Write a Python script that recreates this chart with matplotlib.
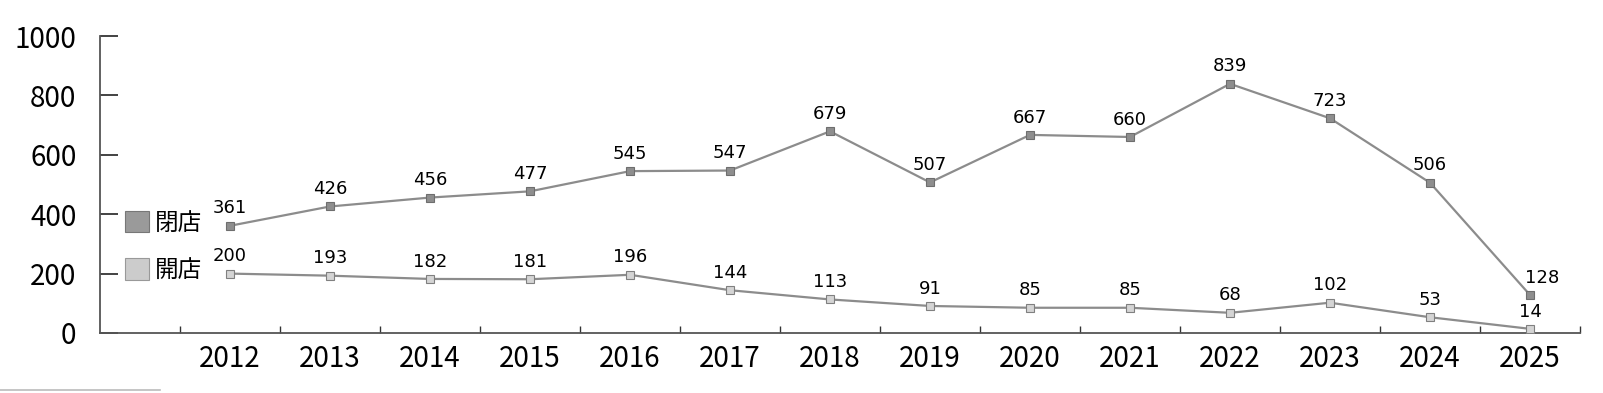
import matplotlib.pyplot as plt
from matplotlib.patches import Patch
from matplotlib.lines import Line2D

years = ['2012', '2013', '2014', '2015', '2016', '2017', '2018',
         '2019', '2020', '2021', '2022', '2023', '2024', '2025']
closed = [361, 426, 456, 477, 545, 547, 679, 507, 667, 660, 839, 723, 506, 128]
opened = [200, 193, 182, 181, 196, 144, 113, 91, 85, 85, 68, 102, 53, 14]
legend_labels = ['閉店', '開店']

tick_font = ['Noto Sans CJK JP', 'DejaVu Sans']
plt.rcParams['font.family'] = tick_font

fig = plt.figure(figsize=(16.03, 3.93), dpi=100)
ax = fig.add_axes([100 / 1603, 60 / 393, 1480 / 1603, 297 / 393])

x = list(range(len(years)))
dark_line, light_line = '#8c8c8c', '#8c8c8c'

ax.plot(x, closed, color=dark_line, lw=1.6, marker='s', ms=6,
        mfc='#8e8e8e', mec='#6e6e6e', mew=0.8, zorder=3)
ax.plot(x, opened, color=light_line, lw=1.6, marker='s', ms=6,
        mfc='#d4d4d4', mec='#808080', mew=0.8, zorder=3)

for i, v in enumerate(closed):
    dx = 9 if i == len(closed) - 1 else 0
    ax.annotate(str(v), (i, v), xytext=(dx, 6), textcoords='offset points',
                ha='center', va='bottom', fontsize=13, family='DejaVu Sans')
for i, v in enumerate(opened):
    ax.annotate(str(v), (i, v), xytext=(0, 6), textcoords='offset points',
                ha='center', va='bottom', fontsize=13, family='DejaVu Sans')

ax.set_xlim(-1.3, len(years) - 0.5)
ax.set_ylim(0, 1000)
ax.set_yticks(range(0, 1001, 200))
ax.set_xticks(x)
ax.set_xticklabels(years)
ax.set_xticks([i - 0.5 for i in range(len(years) + 1)], minor=True)

for s in ['top', 'right']:
    ax.spines[s].set_visible(False)
for s in ['left', 'bottom']:
    ax.spines[s].set_color('#555555')
    ax.spines[s].set_linewidth(1.3)

ax.tick_params(axis='y', direction='in', length=13, width=1.2, color='#222222',
               pad=17, labelsize=20)
ax.tick_params(axis='x', which='major', length=0, pad=8, labelsize=20)
ax.tick_params(axis='x', which='minor', direction='in', length=5, width=1.0,
               color='#333333')

handles = [Patch(facecolor='#9a9a9a', edgecolor='#777777', lw=0.8),
           Patch(facecolor='#cccccc', edgecolor='#999999', lw=0.8)]
ax.legend(handles, legend_labels, loc='upper left', bbox_to_anchor=(0.017, 0.41),
          frameon=False, fontsize=17, handlelength=1.0, handleheight=1.0,
          handletextpad=0.25, labelspacing=1.0, borderpad=0, borderaxespad=0)

fig.add_artist(Line2D([0, 160 / 1603], [3 / 393, 3 / 393], color='#bbbbbb', lw=1.2))

fig.savefig('out.png', dpi=100)
